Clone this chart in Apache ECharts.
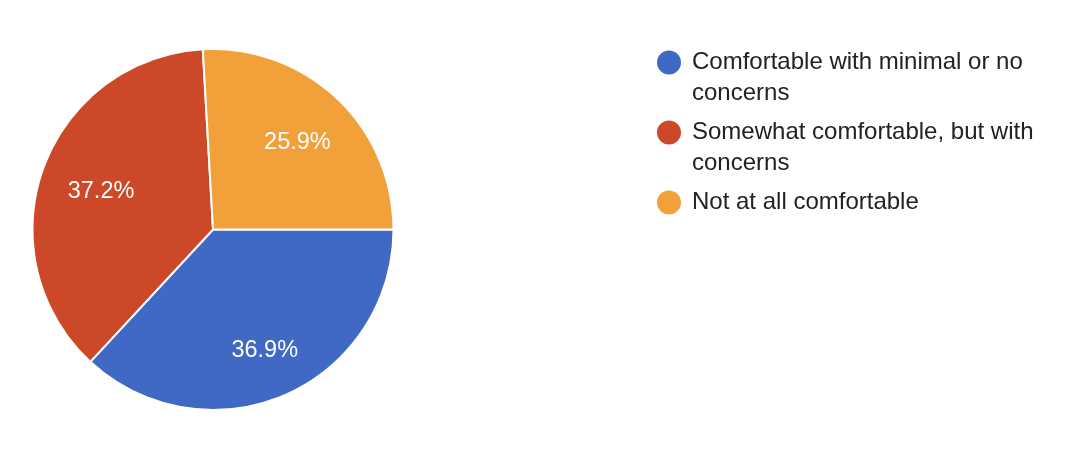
<!DOCTYPE html>
<html>
<head>
<meta charset="utf-8">
<script src="https://cdn.jsdelivr.net/npm/echarts@6/dist/echarts.min.js"></script>
<style>
html,body{margin:0;padding:0;background:#fff;}
#chart{width:1073px;height:462px;}
</style>
</head>
<body>
<div id="chart"></div>
<script>
const categories = [
  'Comfortable with minimal or no concerns',
  'Somewhat comfortable, but with concerns',
  'Not at all comfortable'
];
const legendText = [
  'Comfortable with minimal or no\nconcerns',
  'Somewhat comfortable, but with\nconcerns',
  'Not at all comfortable'
];
const values = [36.9, 37.2, 25.9];
const colors = ['#4069c6', '#cc4828', '#f1a03a'];

const FONT = "'Liberation Sans', Arial, Helvetica, sans-serif";
const CENTER = [213, 229.5];
const RADIUS = 180.5;
const LABEL_SIZE = 23.5;
const LABEL_OUTER = 0.855 * 179.5; // outer corner of label box sits at this radius
const GLYPH_DROP = 2.5;            // digit glyphs sit slightly above the text box middle

const total = values.reduce((a, b) => a + b, 0);
const seriesData = categories.map((c, i) => ({ name: c, value: values[i], itemStyle: { color: colors[i] } }));

function labelLayout(params) {
  const i = params.dataIndex;
  let before = 0;
  for (let k = 0; k < i; k++) before += values[k];
  const theta = (before + values[i] / 2) / total * Math.PI * 2; // clockwise from 3 o'clock
  const ux = Math.cos(theta), uy = Math.sin(theta);
  const w = params.labelRect.width, h = LABEL_SIZE * 0.78;
  const kx = Math.sign(ux) * w / 2, ky = Math.sign(uy) * h / 2;
  const uk = ux * kx + uy * ky;
  const t = -uk + Math.sqrt(uk * uk - (kx * kx + ky * ky) + LABEL_OUTER * LABEL_OUTER);
  return { x: CENTER[0] + t * ux, y: CENTER[1] + t * uy + GLYPH_DROP, align: 'center', verticalAlign: 'middle' };
}

const chart = echarts.init(document.getElementById('chart'), null, { renderer: 'canvas' });
chart.setOption({
  animation: false,
  backgroundColor: '#ffffff',
  legend: {
    orient: 'vertical',
    left: 657,
    top: 16,
    padding: 0,
    itemGap: -23,
    itemWidth: 36,
    itemHeight: 24,
    icon: 'circle',
    itemStyle: { borderWidth: 0 },
    selectedMode: false,
    formatter: function (name) {
      const t = legendText[categories.indexOf(name)];
      return t.indexOf('\n') >= 0 ? '\n' + t : '\n' + t + '\n';
    },
    textStyle: {
      fontFamily: FONT,
      fontSize: 24,
      color: '#222222',
      lineHeight: 31
    },
    data: categories
  },
  series: [
    {
      type: 'pie',
      center: CENTER,
      radius: [0, RADIUS],
      startAngle: 0,
      clockwise: true,
      silent: true,
      label: {
        show: true,
        position: 'inside',
        color: '#ffffff',
        fontFamily: FONT,
        fontSize: LABEL_SIZE,
        formatter: p => p.value.toFixed(1) + '%'
      },
      labelLine: { show: false },
      labelLayout: labelLayout,
      itemStyle: { borderColor: '#ffffff', borderWidth: 2 },
      data: seriesData
    }
  ]
});
</script>
</body>
</html>
